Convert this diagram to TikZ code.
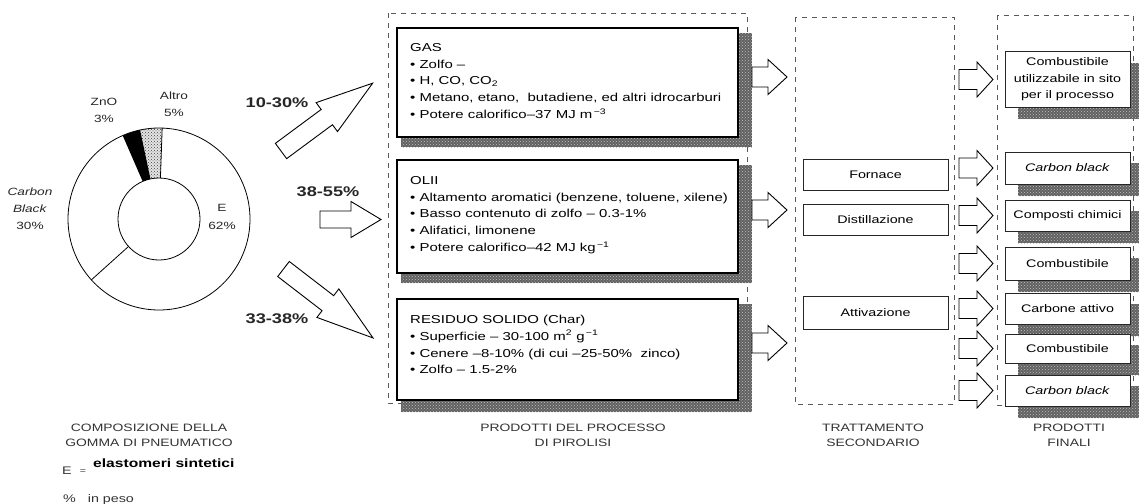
\documentclass[tikz,border=0pt]{standalone}
\usepackage{fontspec}
\setmainfont{Liberation Sans}[FakeStretch=1.3]
\usetikzlibrary{patterns}
\newcommand{\blockarrow}[7]{%
  \begin{scope}[shift={#2},rotate=#3]
    \draw[harrow] (0pt,-#6pt) -- ({#4pt-#5pt},-#6pt) -- ({#4pt-#5pt},-#7pt)
      -- (#4pt,0pt) coordinate (#1) -- ({#4pt-#5pt},#7pt) -- ({#4pt-#5pt},#6pt)
      -- (0pt,#6pt) -- cycle;
  \end{scope}}
\newcommand{\shadowrect}[2]{%
  \fill[shadowfill] #1 rectangle #2;
  \fill[pattern=crosshatch dots, pattern color=black!25] #1 rectangle #2;}
\begin{document}
\begin{tikzpicture}[x=1pt,y=-1pt,
  dbox/.style={draw=black!65, line width=0.7pt, dash pattern=on 5pt off 5pt},
  shadowfill/.style={fill=black!62},
  pbox/.style={draw=black, line width=1.2pt, fill=white, inner sep=0pt},
  sbox/.style={draw=black!85, line width=1pt, fill=white, inner sep=0pt,
    minimum width=145pt, font=\fontsize{11}{14}\selectfont},
  fbox/.style={draw=black!85, line width=1pt, fill=white, inner sep=0pt,
    minimum width=125pt, align=center, font=\fontsize{11}{16.5}\selectfont},
  harrow/.style={draw=black, line width=0.9pt, fill=white, line join=miter},
  ptxt/.style={anchor=north west, inner sep=0pt, align=left,
    font=\fontsize{11.5}{16.8}\selectfont},
  pct/.style={font=\bfseries\fontsize{14}{16}\selectfont, text=black!85},
  capt/.style={align=center, font=\fontsize{10.7}{15}\selectfont, text=black!80},
  pie/.style={align=center, font=\fontsize{10.5}{17.5}\selectfont, text=black!85}]
\useasboundingbox (0,0) rectangle (1139,503);
\clip (0,0) rectangle (1139,503);

% ---------------- pie chart ----------------
\begin{scope}[shift={(159,219)}]
  \fill[gray!20] (88:41pt) -- (88:91pt) arc[start angle=88,end angle=102,radius=91pt]
     -- (102:41pt) arc[start angle=102,end angle=88,radius=41pt] -- cycle;
  \fill[pattern=crosshatch dots, pattern color=black!75] (88:41pt) -- (88:91pt)
     arc[start angle=88,end angle=102,radius=91pt]
     -- (102:41pt) arc[start angle=102,end angle=88,radius=41pt] -- cycle;
  \fill[black] (102:41pt) -- (102:91pt) arc[start angle=102,end angle=113.5,radius=91pt]
     -- (113.5:41pt) arc[start angle=113.5,end angle=102,radius=41pt] -- cycle;
  \draw[line width=0.8pt] (0pt,0pt) circle[radius=91pt];
  \draw[line width=0.8pt] (0pt,0pt) circle[radius=41pt];
  \draw[line width=0.8pt] (88:41pt) -- (88:91pt);
  \draw[line width=0.8pt] (222:41pt) -- (222:91pt);
\end{scope}
\node[pie] (lznO) at (104,110.5) {ZnO\\3\%};
\node[pie] (laltro) at (174,104) {Altro\\5\%};
\node[pie, font=\fontsize{10.5}{17}\selectfont] (lcb) at (30,209) {\textit{Carbon}\\\textit{Black}\\30\%};
\node[pie] (le) at (222,217) {E\\62\%};

% ---------------- dashed frames ----------------
\draw[dbox] (388,13) rectangle (747,403);
\draw[dbox] (795,17) rectangle (954,404);
\draw[dbox] (997,15) rectangle (1133,405);

% ---------------- pyrolysis products ----------------
\shadowrect{(401,33)}{(752,147)}
\shadowrect{(401,165)}{(752,283)}
\shadowrect{(401,304)}{(752,412)}
\node[pbox, minimum width=341pt, minimum height=109pt] (gas) at (567.5,82.5) {};
\node[pbox, minimum width=341pt, minimum height=113pt] (olii) at (567.5,216.5) {};
\node[pbox, minimum width=341pt, minimum height=101pt] (res) at (567.5,349.5) {};
\node[ptxt] (gastxt) at (410,43) {GAS\\
  \textbullet\ Zolfo –\\
  \textbullet\ H, CO, CO\textsubscript{2}\\
  \textbullet\ Metano, etano,\ \ butadiene, ed altri idrocarburi\\
  \textbullet\ Potere calorifico–37 MJ m\textsuperscript{\,−3}};
\node[ptxt] (oliitxt) at (410,176) {OLII\\
  \textbullet\ Altamento aromatici (benzene, toluene, xilene)\\
  \textbullet\ Basso contenuto di zolfo – 0.3-1\%\\
  \textbullet\ Alifatici, limonene\\
  \textbullet\ Potere calorifico–42 MJ kg\textsuperscript{\,−1}};
\node[ptxt] (restxt) at (410,315) {RESIDUO SOLIDO (Char)\\
  \textbullet\ Superficie – 30-100 m\textsuperscript{2} g\textsuperscript{\,−1}\\
  \textbullet\ Cenere –8-10\% (di cui –25-50\%\ \ zinco)\\
  \textbullet\ Zolfo – 1.5-2\%};

% ---------------- input arrows ----------------
\blockarrow{a1}{(281,151)}{36.5}{114}{57}{9.5}{18}
\blockarrow{a2}{(320,219.5)}{0}{61}{30}{8.5}{18}
\blockarrow{a3}{(283.5,269)}{-37.6}{113}{57}{9.5}{18}
\node[pct] (p1) at (277,103) {10-30\%};
\node[pct] (p2) at (328,192) {38-55\%};
\node[pct] (p3) at (277,319) {33-38\%};

% ---------------- arrows to secondary treatment ----------------
\blockarrow{b1}{(752,77)}{0}{35}{19}{10}{17.5}
\blockarrow{b2}{(752,210)}{0}{35}{19}{10}{17.5}
\blockarrow{b3}{(752,343)}{0}{35}{19}{10}{17.5}

% ---------------- secondary treatment ----------------
\node[sbox, minimum height=31pt] (fornace) at (875.5,174.5) {Fornace};
\node[sbox, minimum height=31pt] (distill) at (875.5,219.5) {Distillazione};
\node[sbox, minimum height=33pt] (attiv) at (875.5,312.5) {Attivazione};

% ---------------- final products ----------------
\shadowrect{(1018,63)}{(1142,119)}
\shadowrect{(1018,163)}{(1142,196)}
\shadowrect{(1018,211)}{(1142,243)}
\shadowrect{(1018,258)}{(1142,292)}
\shadowrect{(1018,304)}{(1142,336)}
\shadowrect{(1018,345)}{(1142,375)}
\shadowrect{(1018,386)}{(1142,418)}
\node[fbox, minimum height=55pt] (f1) at (1067.5,79.5) {Combustibile\\utilizzabile in sito\\per il processo};
\node[fbox, minimum height=32pt] (f2) at (1067.5,168) {\textit{Carbon black}};
\node[fbox, minimum height=31pt] (f3) at (1067.5,215.5) {Composti chimici};
\node[fbox, minimum height=33pt] (f4) at (1067.5,263.5) {Combustibile};
\node[fbox, minimum height=31pt] (f5) at (1067.5,308.5) {Carbone attivo};
\node[fbox, minimum height=29pt] (f6) at (1067.5,348.5) {Combustibile};
\node[fbox, minimum height=31pt] (f7) at (1067.5,390.5) {\textit{Carbon black}};

\blockarrow{c1}{(959,79.5)}{0}{34}{16}{10}{17.5}
\blockarrow{c2}{(959,168)}{0}{34}{16}{10}{17.5}
\blockarrow{c3}{(959,215.5)}{0}{34}{16}{10}{17.5}
\blockarrow{c4}{(959,263.5)}{0}{34}{16}{10}{17.5}
\blockarrow{c5}{(959,308.5)}{0}{34}{16}{10}{17.5}
\blockarrow{c6}{(959,348.5)}{0}{34}{16}{10}{17.5}
\blockarrow{c7}{(959,390.5)}{0}{34}{16}{10}{17.5}

% ---------------- captions ----------------
\node[capt] (cap1) at (149,435.5) {COMPOSIZIONE DELLA\\GOMMA DI PNEUMATICO};
\node[capt] (cap2) at (573,435.5) {PRODOTTI DEL PROCESSO\\DI PIROLISI};
\node[capt] (cap3) at (873,435.5) {TRATTAMENTO\\SECONDARIO};
\node[capt] (cap4) at (1069,435.5) {PRODOTTI\\FINALI};

\node[font=\fontsize{11}{13}\selectfont, text=black!80, inner sep=0pt] (legE) at (67,471) {E};
\node[font=\fontsize{8}{10}\selectfont, text=black!80, inner sep=0pt] (legEq) at (83,472) {=};
\node[anchor=west, font=\bfseries\fontsize{12}{14}\selectfont, inner sep=0pt] (legtxt) at (93,463) {elastomeri sintetici};
\node[anchor=west, font=\fontsize{11}{13}\selectfont, text=black!80, inner sep=0pt] (legpct) at (63,500) {\%\ \ \ in peso};
\end{tikzpicture}
\end{document}
